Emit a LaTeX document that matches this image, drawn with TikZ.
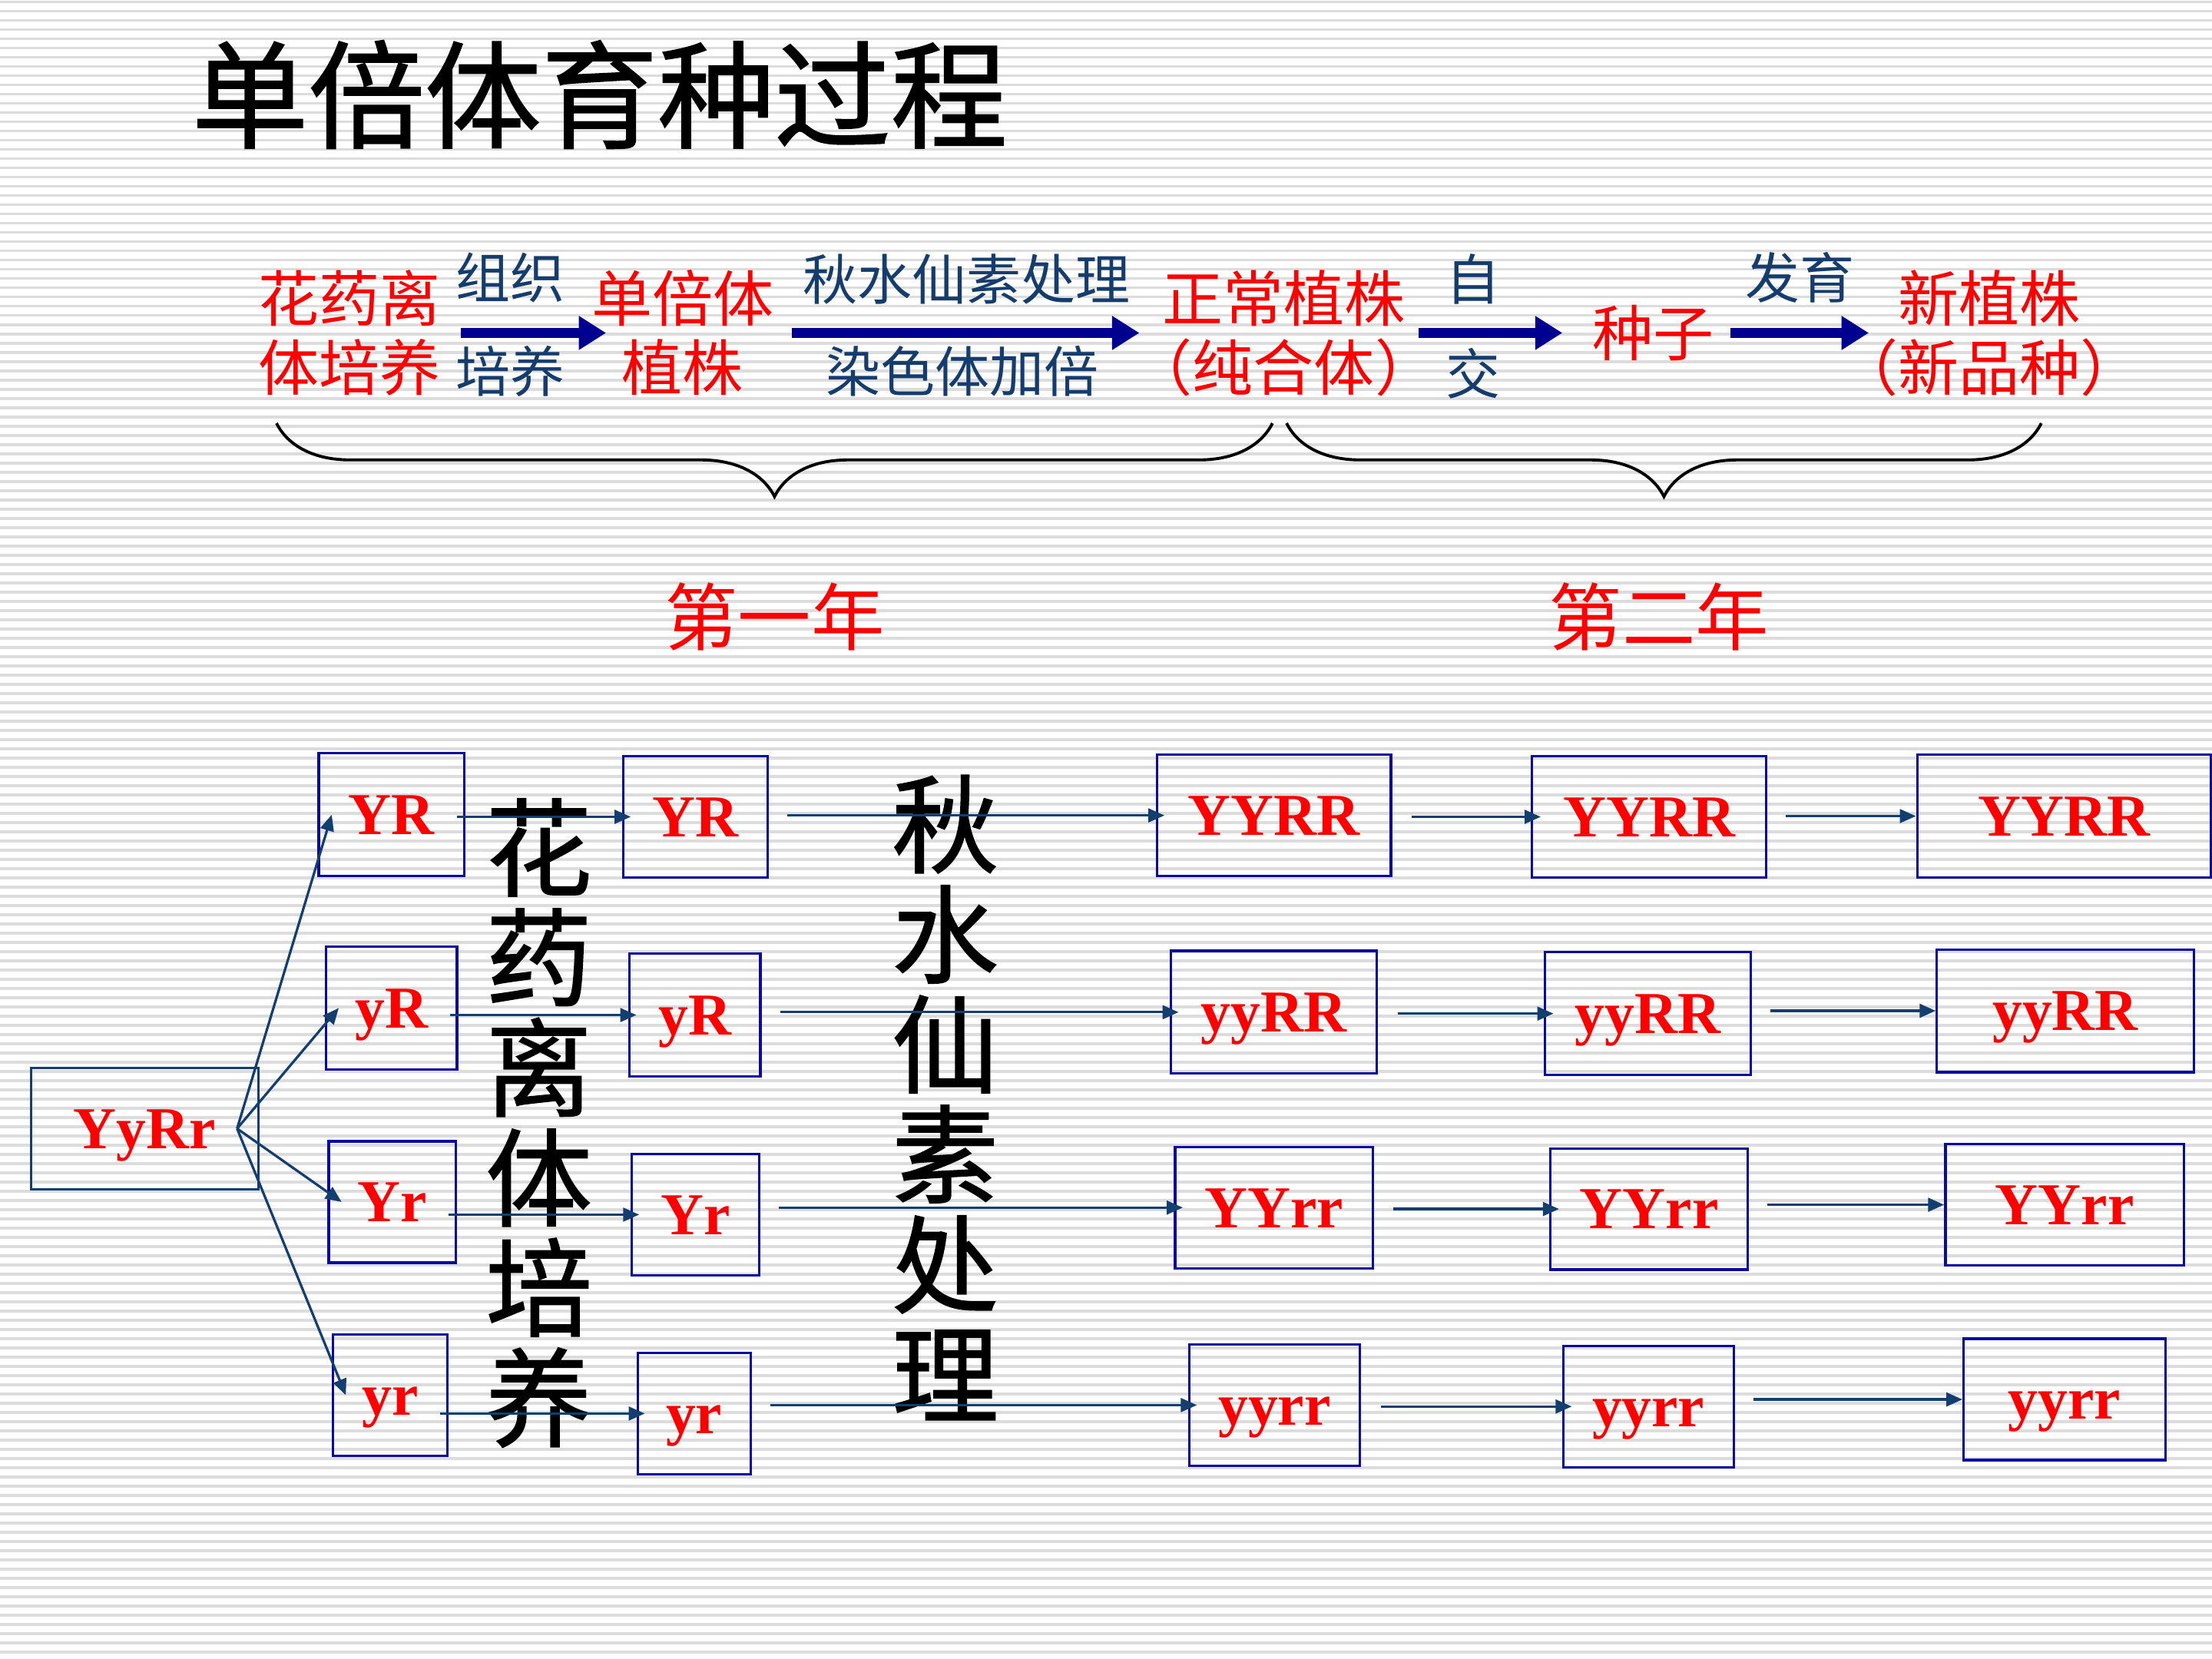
\documentclass[tikz,border=0pt]{standalone}
\usepackage{fontspec}
\setmainfont{Liberation Serif}
\newfontfamily\cjk{Noto Sans CJK SC}
\newfontfamily\cjkh[FakeBold=1.2]{Noto Sans CJK SC}
\usetikzlibrary{arrows.meta,decorations.pathreplacing}
\definecolor{boxblue}{HTML}{0A0AA0}
\definecolor{arrblue}{HTML}{123E70}
\definecolor{flowblue}{HTML}{000090}
\definecolor{labblue}{HTML}{143C6C}
\definecolor{stripe}{HTML}{DCDCDC}
\tikzset{
    gbox/.style={draw=boxblue, line width=1pt, inner sep=0pt, text height=16pt, text depth=0pt, text=red, font=\fontsize{24}{24}\selectfont\bfseries},
    arr/.style={draw=arrblue, line width=1pt, -{Triangle[length=6.5pt,width=5.5pt]}},
    bigarr/.style={draw=flowblue, line width=4pt, -{Triangle[length=11pt,width=13pt]}},
    redtxt/.style={text=red, align=center, inner sep=0pt, font=\cjk\fontsize{24.5}{27.9}\selectfont},
    bluetxt/.style={text=labblue, inner sep=0pt, font=\cjk\fontsize{22}{22}\selectfont},
    vtxt/.style={align=center, inner sep=0pt, font=\cjkh\fontsize{43}{44.4}\selectfont},
    brc/.style={line width=1.2pt, decorate, decoration={brace, mirror, amplitude=29.6pt}}
}
\begin{document}
\begin{tikzpicture}[x=0.02cm,y=-0.02cm]
    \useasboundingbox (0,0) rectangle (1568,1176);
    \fill[white] (0,0) rectangle (1568,1176);
    \foreach \k in {0,...,179}
    {
    \fill[stripe] (0,{(1+12*\k)/1.8367}) rectangle ++(1568,1.9);
    }
    \node[font=\cjkh\fontsize{47}{47}\selectfont, inner sep=0pt] (title) at (425,67) {单倍体育种过程};
    \node[redtxt] (hua) at (247.5,236) {花药离\\体培养};
    \node[redtxt] (dan) at (484,236) {单倍体\\植株};
    \node[redtxt] (zc) at (910,236) {正常植株\\（纯合体）};
    \node[redtxt] (zz) at (1172,236) {种子};
    \node[redtxt] (xin) at (1410,236) {新植株\\（新品种）};
    \node[bluetxt] (zz1) at (362,197) {组织};
    \node[bluetxt] (py1) at (362,263) {培养};
    \node[bluetxt] (qs1) at (685,198) {秋水仙素处理};
    \node[bluetxt] (rs1) at (682,263) {染色体加倍};
    \node[bluetxt] (zj1) at (1044,198) {自};
    \node[bluetxt] (jj1) at (1044,265) {交};
    \node[bluetxt] (fy1) at (1276,197) {发育};
    \draw[bigarr, shorten <=8pt, shorten >=-6pt] (hua) -- (dan);
    \draw[bigarr, shorten <=7pt, shorten >=-3.2pt] (dan) -- (zc);
    \draw[bigarr, shorten <=-7.2pt, shorten >=12pt] (zc) -- (zz);
    \draw[bigarr, shorten <=6.3pt, shorten >=-12.9pt] (zz) -- (xin);
    \draw[brc] (196,300) -- (902,300);
    \draw[brc] (912,300) -- (1447,300);
    \node[redtxt, font=\cjk\fontsize{29.6}{30}\selectfont] (yr1) at (549,437) {第一年};
    \node[redtxt, font=\cjk\fontsize{29.6}{30}\selectfont] (yr2) at (1176,437) {第二年};
    \node[vtxt] (hyl) at (382,796) {花\\药\\离\\体\\培\\养};
    \node[vtxt] (qsl) at (670,778) {秋\\水\\仙\\素\\处\\理};
    \node[gbox, draw=arrblue, minimum width=161*0.02cm, minimum height=86*0.02cm] (p) at (102.5,800) {YyRr};
    \foreach \nm/\xa/\ya/\xb/\yb/\gt in {
        g1/226/534/329/621/YR, g2/231/671/324/758/yR, g3/233/809/323/895/Yr, g4/236/946/317/1032/yr,
        h1/442/536/544/622/YR, h2/446/676/539/763/yR, h3/448/818/538/904/Yr, h4/452/959/532/1045/yr,
        d1/820/535/986/621/YYRR, d2/830/674/976/761/yyRR, d3/833/813/973/899/YYrr, d4/843/953/964/1039/yyrr,
        s1/1086/536/1252/622/YYRR, s2/1095/675/1241/762/yyRR, s3/1099/814/1239/900/YYrr, s4/1108/954/1229/1040/yyrr,
        n1/1359/535/1567/622/YYRR, n2/1373/673/1555/760/yyRR, n3/1379/811/1548/897/YYrr, n4/1392/949/1535/1035/yyrr}
    {
    \node[gbox, minimum width={(\xb-\xa)*0.02cm}, minimum height={(\yb-\ya)*0.02cm}] (\nm) at ({(\xa+\xb)/2},{(\ya+\yb)/2}) {\gt};
    }
    \coordinate (fan) at ([xshift=-9pt]p.east);
    \foreach \i in {1,...,4}
    {
    \draw[arr] (fan) -- ([xshift=5.7pt]g\i.west);
    \draw[arr, shorten <=-3.4pt, shorten >=-3.4pt] (g\i.east |- h\i.west) -- (h\i.west);
    \draw[arr, shorten <=7.4pt, shorten >=-3.6pt] (h\i.east |- d\i.west) -- (d\i.west);
    \draw[arr, shorten <=7.9pt, shorten >=-4pt] (d\i.east |- s\i.west) -- (s\i.west);
    \draw[arr, shorten <=7.4pt] (s\i.east |- n\i.west) -- (n\i.west);
    }
\end{tikzpicture}
\end{document}
